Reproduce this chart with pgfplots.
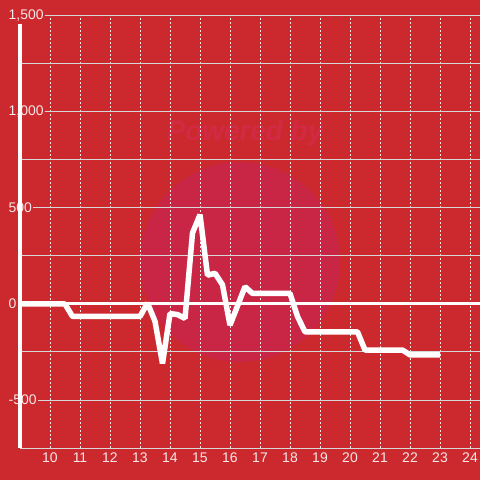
\documentclass[border=0pt]{standalone}
\usepackage{pgfplots}
\pgfplotsset{compat=1.18}
\usepackage{fontspec}
\setmainfont{Liberation Sans}
\definecolor{bg}{RGB}{204,41,46}
\definecolor{gridgray}{RGB}{215,215,215}
\definecolor{wm}{RGB}{201,38,70}
\definecolor{wmtext}{RGB}{210,42,68}
\definecolor{lbl}{RGB}{245,232,232}
\begin{document}
\begin{tikzpicture}
\fill[bg] (-20bp,-32bp) rectangle (460bp,448bp);
\fill[wm] (220bp,186bp) circle[radius=100bp];
\node[font=\fontsize{28}{30}\selectfont\bfseries\itshape, text=wmtext] at (225bp,315bp) {Powered by};
\begin{axis}[
  scale only axis, width=460bp, height=432bp,
  xmin=9, xmax=24.3333, ymin=-750, ymax=1500,
  axis lines*=left,
  separate axis lines,
  x axis line style={gridgray, line width=1bp},
  y axis line style={draw=none},
  xtick={10,11,...,24},
  ytick={-500,0,500,1000,1500},
  yticklabels={-500,0,500,{1,000},{1,500}},
  minor ytick={-250,250,750,1250},
  major tick length=0pt, minor tick length=0pt,
  grid=both,
  x grid style={lbl, line width=0.8bp, dash pattern=on 2bp off 2bp},
  y grid style={gridgray, line width=1bp},
  minor y grid style={gridgray, line width=1bp},
  /pgf/number format/assume math mode=true,
  tick label style={font=\fontsize{14}{16}\selectfont, text=lbl},
  yticklabel style={anchor=west, xshift=-13bp, fill=bg, inner sep=1.5bp},
  xticklabel style={yshift=-1bp},
  clip=false,
]
\addplot[white, line width=3bp] coordinates {(9,0) (24.3333,0)};
\addplot[white, line width=5.5bp, line join=bevel] coordinates {
(9,0)(10.5,0)(10.75,-65)(13.0,-65)(13.25,5)(13.5,-90)(13.75,-310)(14.0,-50)(14.25,-55)(14.5,-75)(14.75,370)(15.0,465)(15.25,150)(15.5,160)(15.75,100)(16.0,-110)(16.25,-10)(16.5,90)(16.75,55)(18.0,55)(18.25,-65)(18.5,-145)(20.25,-145)(20.5,-240)(21.75,-240)(22.0,-265)(23.0,-265)
};
\end{axis}
\draw[white, line width=3bp] (0,0) -- (0,424bp);
\pgfresetboundingbox
\useasboundingbox (-20bp,-32bp) rectangle (460bp,448bp);
\end{tikzpicture}
\end{document}
